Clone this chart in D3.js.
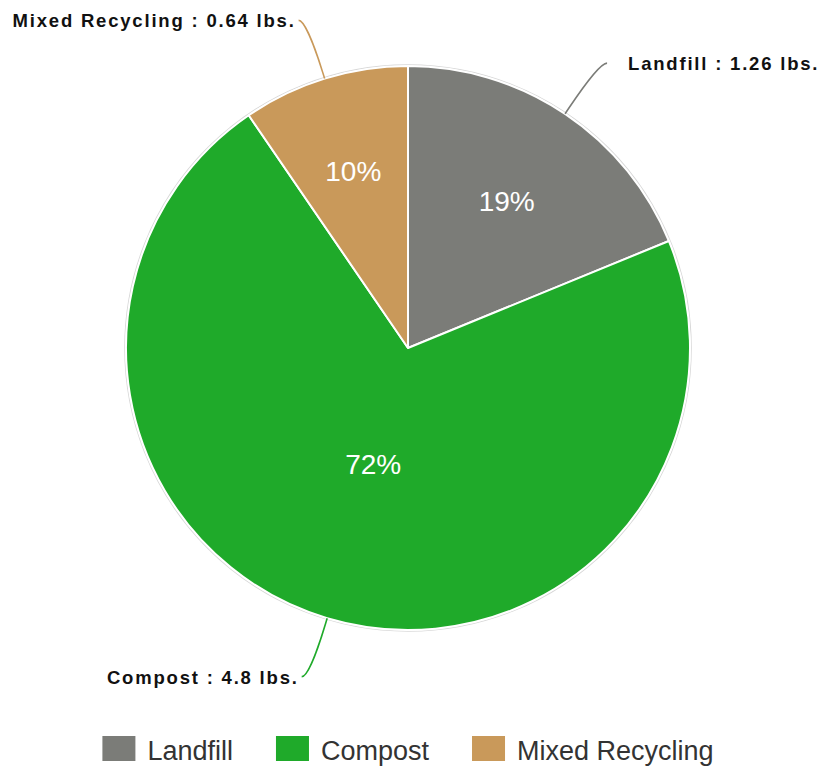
<!DOCTYPE html>
<html>
<head>
<meta charset="utf-8">
<script src="https://cdn.jsdelivr.net/npm/d3@7"></script>
<style>
  html, body { margin: 0; padding: 0; background: #fff; }
  svg { display: block; }
</style>
</head>
<body>
<svg id="chart" width="823" height="767"></svg>
<script>
// ---- data ----
const categories = ["Landfill", "Compost", "Mixed Recycling"];
const weights = [1.26, 4.8, 0.64];          // lbs.
const colors = ["#7b7c78", "#1faa2a", "#c9995a"];
const unit = "lbs.";

// ---- layout ----
const W = 823, H = 767;
const cx = 408, cy = 348, r = 282;
const labelR = 343;

const svg = d3.select("#chart");
const data = categories.map((c, i) => ({ name: c, value: weights[i], color: colors[i] }));
const total = d3.sum(weights);

const pie = d3.pie().sort(null).value(d => d.value).startAngle(0).endAngle(2 * Math.PI);
const arcs = pie(data);
const arc = d3.arc().innerRadius(0).outerRadius(r);

const g = svg.append("g").attr("transform", `translate(${cx},${cy})`);

// faint outer edge
g.append("circle").attr("r", r + 1.2).attr("fill", "none")
  .attr("stroke", "#d8d8d8").attr("stroke-width", 1.2);

g.selectAll("path.slice").data(arcs).join("path")
  .attr("class", "slice")
  .attr("d", arc)
  .attr("fill", d => d.data.color)
  .attr("stroke", "#fff")
  .attr("stroke-width", 2)
  .attr("stroke-linejoin", "round");

// percentage labels
g.selectAll("text.pct").data(arcs).join("text")
  .attr("class", "pct")
  .attr("transform", d => {
    const th = d.endAngle - d.startAngle;
    const a = (d.startAngle + d.endAngle) / 2;
    const dist = Math.max(4 * r * Math.sin(th / 2) / (3 * th), 0.43 * r);
    return `translate(${Math.sin(a) * dist},${-Math.cos(a) * dist})`;
  })
  .attr("text-anchor", "middle")
  .attr("dy", "0.36em")
  .attr("fill", "#fff")
  .style("font-family", "'Liberation Sans', Arial, sans-serif")
  .style("font-size", "28px")
  .text(d => Math.round(d.data.value / total * 100) + "%");

// outside labels with soft connectors
arcs.forEach(d => {
  const a = (d.startAngle + d.endAngle) / 2;
  const s = Math.sin(a), c = -Math.cos(a);
  const side = s >= 0 ? 1 : -1;
  const E = [s * r, c * r];
  const B = [s * (r + 6), c * (r + 6)];
  const P = [s * labelR + side * 8, c * labelR];
  const path = `M${P[0]},${P[1]} C${P[0] - side * 8},${P[1]} ${2 * B[0] - E[0]},${2 * B[1] - E[1]} ${B[0]},${B[1]} L${E[0]},${E[1]}`;
  g.append("path").attr("d", path).attr("fill", "none")
    .attr("stroke", d.data.color).attr("stroke-width", 1.6);
  g.append("text")
    .attr("x", side > 0 ? P[0] + 21 : P[0] - 3)
    .attr("y", P[1] + 7)
    .attr("text-anchor", side > 0 ? "start" : "end")
    .attr("fill", "#111")
    .style("font-family", "'Liberation Sans', Arial, sans-serif")
    .style("font-weight", "bold")
    .style("font-size", "18.5px")
    .style("letter-spacing", "1.8px")
    .text(`${d.data.name} : ${d.data.value} ${unit}`);
});

// legend
const legend = svg.append("g");
const sqW = 33, sqH = 25, txtGap = 12, itemGap = 43;
const items = legend.selectAll("g").data(data).join("g");
items.append("rect").attr("width", sqW).attr("height", sqH).attr("y", 736)
  .attr("fill", d => d.color);
items.append("text").attr("x", sqW + txtGap).attr("y", 760)
  .attr("fill", "#333")
  .style("font-family", "'Liberation Sans', Arial, sans-serif")
  .style("font-size", "27px")
  .text(d => d.name);
let xs = [], x = 0;
items.each(function () {
  xs.push(x);
  const tw = d3.select(this).select("text").node().getComputedTextLength();
  x += sqW + txtGap + tw + itemGap;
});
const totalW = x - itemGap;
const x0 = cx - totalW / 2;
items.attr("transform", (d, i) => `translate(${x0 + xs[i]},0)`);
</script>
</body>
</html>
